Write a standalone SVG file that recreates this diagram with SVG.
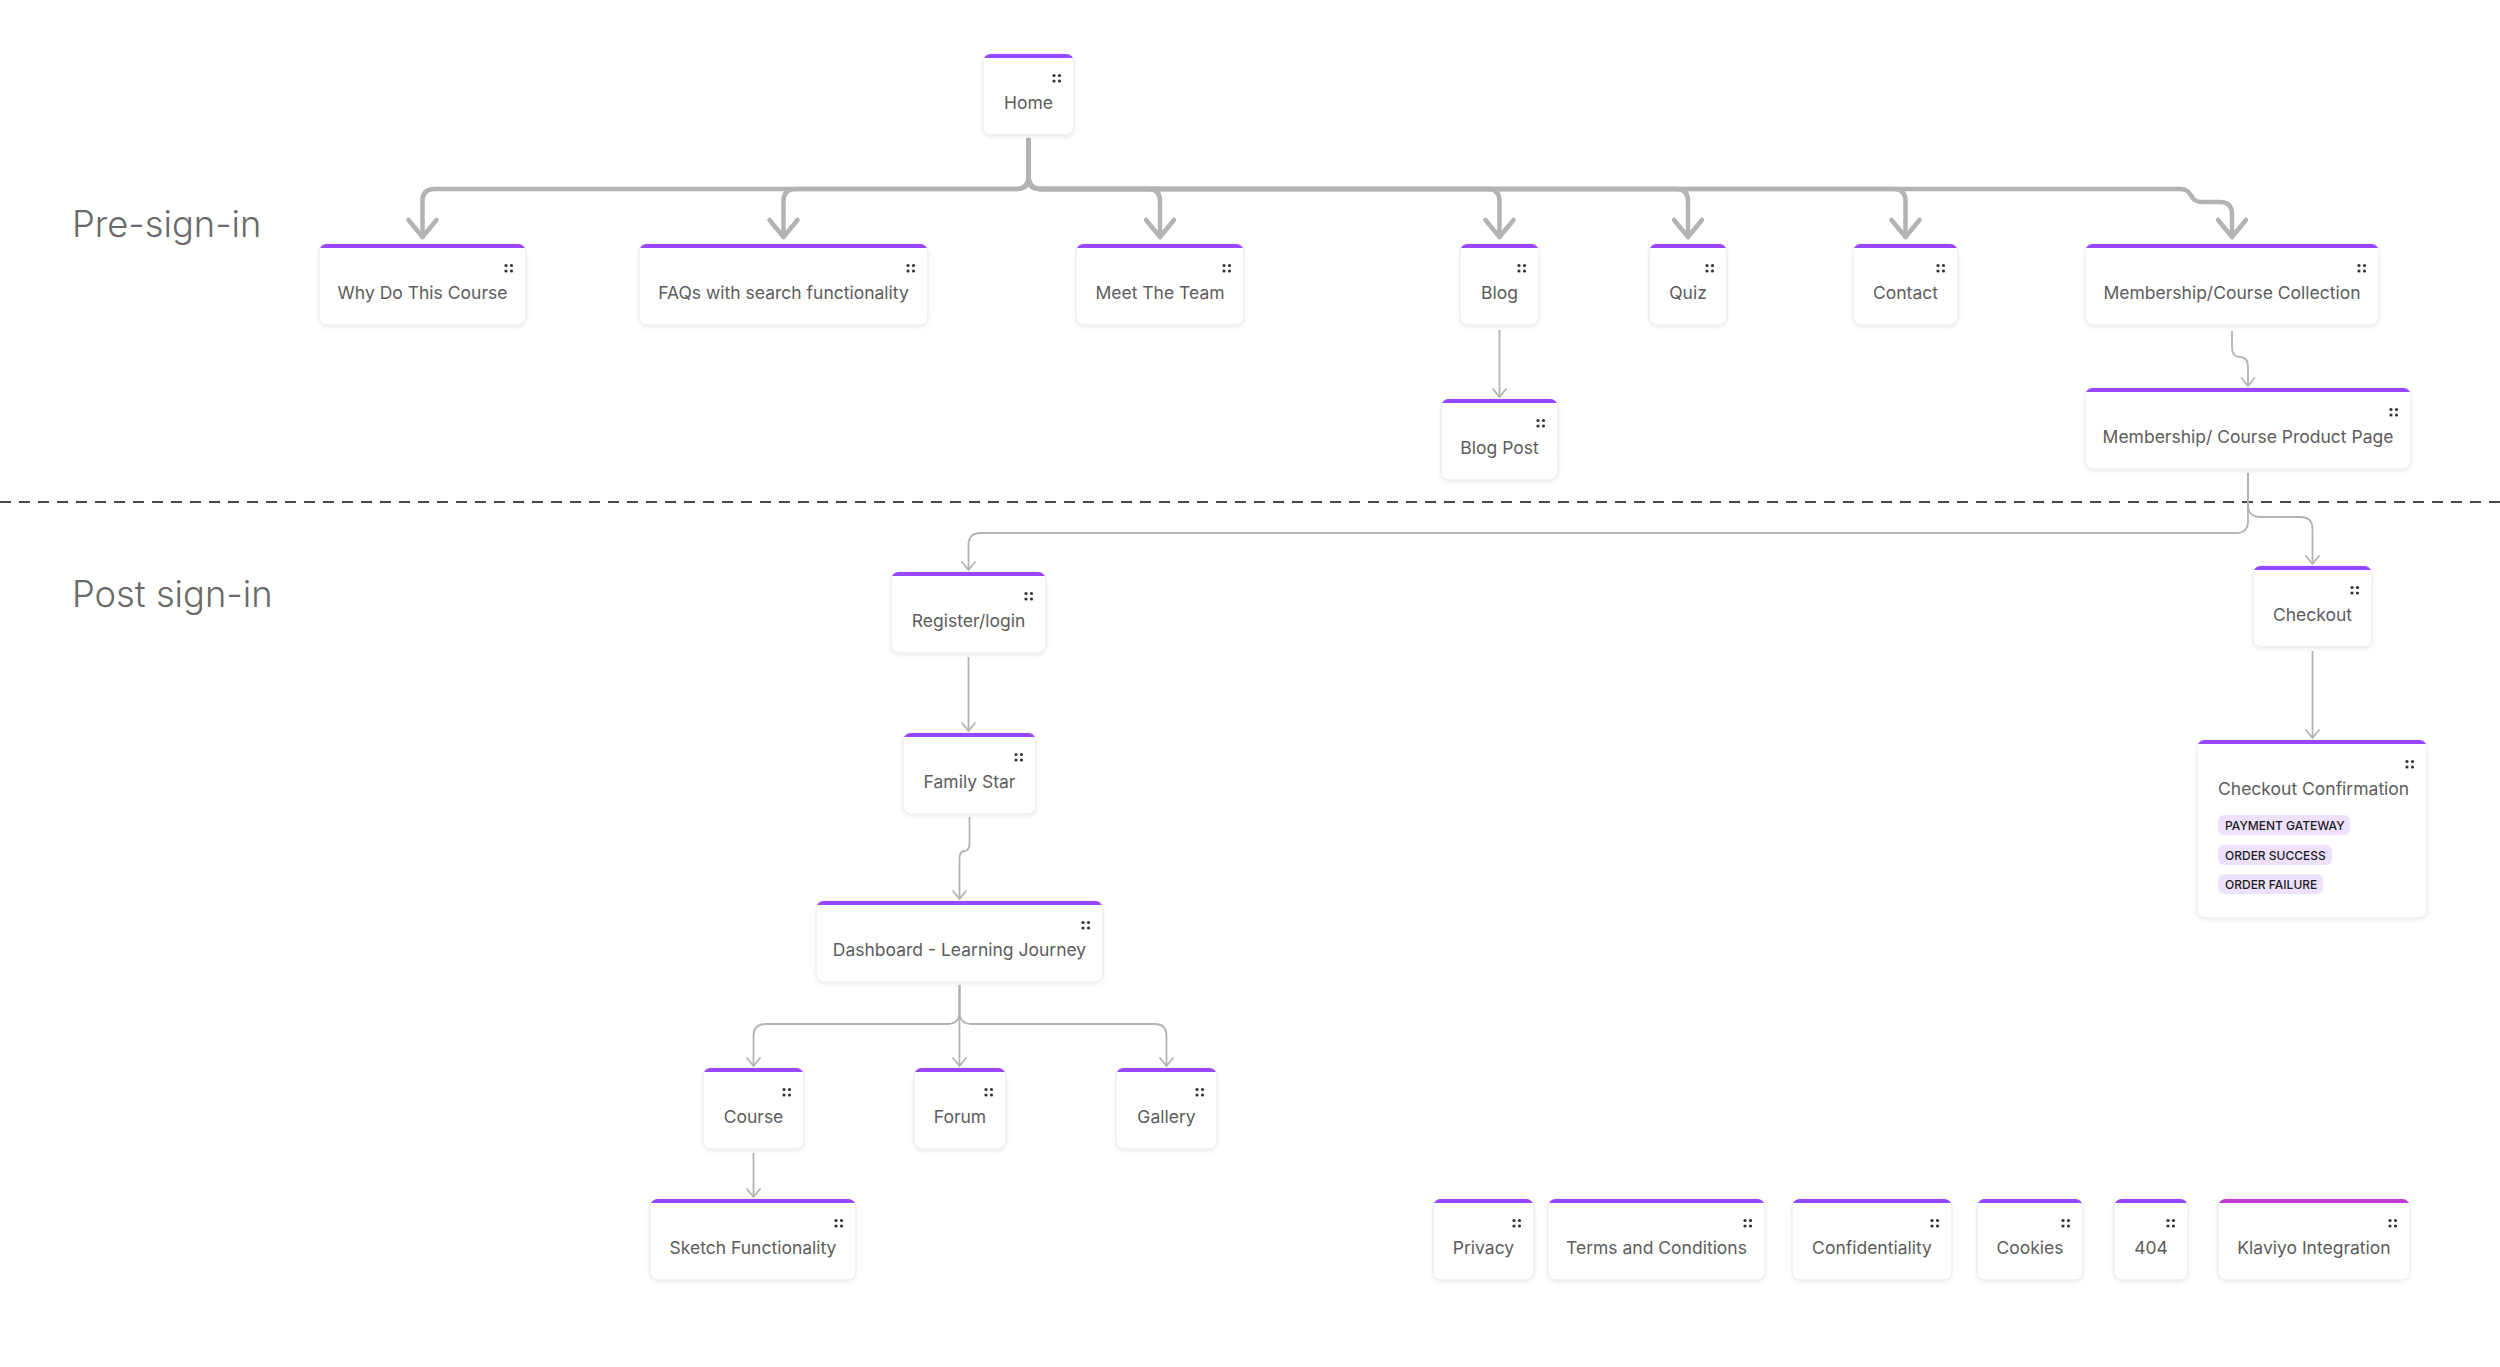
<svg xmlns="http://www.w3.org/2000/svg" xmlns:xlink="http://www.w3.org/1999/xlink" width="2500" height="1367" viewBox="0 0 2500 1367">
<style>
.card{fill:#ffffff;stroke:#e9e9e9;stroke-width:1;filter:url(#sh)}
.bar{fill:#9747ff}
.bar2{fill:#c23ad2}
.lbl{font-family:Inter,"Liberation Sans",sans-serif;font-size:17.5px;fill:#5c5c5c;text-anchor:middle}
.lbll{font-family:Inter,"Liberation Sans",sans-serif;font-size:17.5px;fill:#5c5c5c}
.sec{font-family:Inter,"Liberation Sans",sans-serif;font-size:36.3px;font-weight:300;fill:#6a6a6a}
.tag{fill:#ede1fd}
.tagt{font-family:Inter,"Liberation Sans",sans-serif;font-size:12px;font-weight:500;fill:#1c1c1c}
.thick{fill:none;stroke:#b3b3b3;stroke-width:4.5;stroke-linecap:round;stroke-linejoin:round;marker-end:url(#ahT)}
.thin{fill:none;stroke:#b3b3b3;stroke-width:1.8;marker-end:url(#ah)}
.dot{fill:#333333}
</style>
<defs>
<filter id="sh" x="-10%" y="-10%" width="120%" height="130%">
<feDropShadow dx="0" dy="2" stdDeviation="2" flood-color="#000000" flood-opacity="0.07"/>
</filter>
<marker id="ahT" markerUnits="userSpaceOnUse" orient="auto" refX="0" refY="0" markerWidth="40" markerHeight="40" viewBox="-20 -20 40 40" overflow="visible">
<path d="M-17,-14 L0,0 L-17,14" fill="none" stroke="#b3b3b3" stroke-width="4.5" stroke-linecap="round" stroke-linejoin="round"/>
</marker>
<marker id="ah" markerUnits="userSpaceOnUse" orient="auto" refX="0" refY="0" markerWidth="20" markerHeight="20" viewBox="-10 -10 20 20" overflow="visible">
<path d="M-8,-6.5 L0,0 L-8,6.5" fill="none" stroke="#b3b3b3" stroke-width="1.8" stroke-linecap="round" stroke-linejoin="round"/>
</marker>
<g id="dots">
<circle class="dot" cx="0" cy="0" r="1.6"/>
<circle class="dot" cx="5.5" cy="0" r="1.6"/>
<circle class="dot" cx="0" cy="5.5" r="1.6"/>
<circle class="dot" cx="5.5" cy="5.5" r="1.6"/>
</g>
</defs>
<rect x="0" y="0" width="2500" height="1367" fill="#ffffff"/>

<g id="sections">
<text class="sec" x="72" y="237">Pre-sign-in</text>
<text class="sec" x="72" y="607">Post sign-in</text>
<line x1="0" y1="502" x2="2500" y2="502" stroke="#4a4a4a" stroke-width="2" stroke-dasharray="11 8"/>
</g>

<g id="connectors">
<path class="thick" d="M1028.5 140 V177 Q1028.5 189 1016.5 189 H434.5 Q422.5 189 422.5 201 V237"/>
<path class="thick" d="M1028.5 140 V177 Q1028.5 189 1016.5 189 H795.5 Q783.5 189 783.5 201 V237"/>
<path class="thick" d="M1028.5 140 V177 Q1028.5 189 1040.5 189 H1148 Q1160 189 1160 201 V237"/>
<path class="thick" d="M1028.5 140 V177 Q1028.5 189 1040.5 189 H1487.5 Q1499.5 189 1499.5 201 V237"/>
<path class="thick" d="M1028.5 140 V177 Q1028.5 189 1040.5 189 H1676 Q1688 189 1688 201 V237"/>
<path class="thick" d="M1028.5 140 V177 Q1028.5 189 1040.5 189 H1893.5 Q1905.5 189 1905.5 201 V237"/>
<path class="thick" d="M1028.5 140 V177 Q1028.5 189 1040.5 189 H2180 C2194 189 2188 202 2202 202 H2220 Q2232 202 2232 214 V237"/>
<path class="thin" d="M1499.5 330 V397"/>
<path class="thin" d="M2232 331 V347 Q2232 357 2240 357 Q2248 357 2248 367 V386"/>
<path class="thin" d="M2248 473 V521 Q2248 533 2236 533 H980.5 Q968.5 533 968.5 545 V570"/>
<path class="thin" d="M2248 473 V505 Q2248 517 2260 517 H2300 Q2312.5 517 2312.5 529 V564"/>
<path class="thin" d="M2312.5 651 V738"/>
<path class="thin" d="M968.5 657 V731"/>
<path class="thin" d="M969.5 817 V843 Q969.5 851 964.5 851 Q959.5 851 959.5 859 V899"/>
<path class="thin" d="M959.5 985 V1012 Q959.5 1024 947.5 1024 H765.5 Q753.5 1024 753.5 1036 V1066"/>
<path class="thin" d="M959.5 985 V1066"/>
<path class="thin" d="M959.5 985 V1012 Q959.5 1024 971.5 1024 H1154.5 Q1166.5 1024 1166.5 1036 V1066"/>
<path class="thin" d="M753.5 1153 V1197"/>
</g>

<g id="node-home">
<rect class="card" x="983" y="54" width="91" height="81" rx="8"/>
<path class="bar" d="M984.07,58 A8,8 0 0 1 991,54 H1066 A8,8 0 0 1 1072.93,58 Z"/>
<use href="#dots" x="1054" y="75.5"/>
<text class="lbl" x="1028.5" y="109">Home</text>
</g>

<g id="node-why">
<rect class="card" x="319" y="244" width="207" height="81" rx="8"/>
<path class="bar" d="M320.07,248 A8,8 0 0 1 327,244 H518 A8,8 0 0 1 524.93,248 Z"/>
<use href="#dots" x="506" y="265.5"/>
<text class="lbl" x="422.5" y="299">Why Do This Course</text>
</g>

<g id="node-faqs">
<rect class="card" x="639" y="244" width="289" height="81" rx="8"/>
<path class="bar" d="M640.07,248 A8,8 0 0 1 647,244 H920 A8,8 0 0 1 926.93,248 Z"/>
<use href="#dots" x="908" y="265.5"/>
<text class="lbl" x="783.5" y="299">FAQs with search functionality</text>
</g>

<g id="node-team">
<rect class="card" x="1076" y="244" width="168" height="81" rx="8"/>
<path class="bar" d="M1077.07,248 A8,8 0 0 1 1084,244 H1236 A8,8 0 0 1 1242.93,248 Z"/>
<use href="#dots" x="1224" y="265.5"/>
<text class="lbl" x="1160" y="299">Meet The Team</text>
</g>

<g id="node-blog">
<rect class="card" x="1460" y="244" width="79" height="81" rx="8"/>
<path class="bar" d="M1461.07,248 A8,8 0 0 1 1468,244 H1531 A8,8 0 0 1 1537.93,248 Z"/>
<use href="#dots" x="1519" y="265.5"/>
<text class="lbl" x="1499.5" y="299">Blog</text>
</g>

<g id="node-quiz">
<rect class="card" x="1649" y="244" width="78" height="81" rx="8"/>
<path class="bar" d="M1650.07,248 A8,8 0 0 1 1657,244 H1719 A8,8 0 0 1 1725.93,248 Z"/>
<use href="#dots" x="1707" y="265.5"/>
<text class="lbl" x="1688" y="299">Quiz</text>
</g>

<g id="node-contact">
<rect class="card" x="1853" y="244" width="105" height="81" rx="8"/>
<path class="bar" d="M1854.07,248 A8,8 0 0 1 1861,244 H1950 A8,8 0 0 1 1956.93,248 Z"/>
<use href="#dots" x="1938" y="265.5"/>
<text class="lbl" x="1905.5" y="299">Contact</text>
</g>

<g id="node-collection">
<rect class="card" x="2085" y="244" width="294" height="81" rx="8"/>
<path class="bar" d="M2086.07,248 A8,8 0 0 1 2093,244 H2371 A8,8 0 0 1 2377.93,248 Z"/>
<use href="#dots" x="2359" y="265.5"/>
<text class="lbl" x="2232" y="299">Membership/Course Collection</text>
</g>

<g id="node-blogpost">
<rect class="card" x="1441" y="399" width="117" height="81" rx="8"/>
<path class="bar" d="M1442.07,403 A8,8 0 0 1 1449,399 H1550 A8,8 0 0 1 1556.93,403 Z"/>
<use href="#dots" x="1538" y="420.5"/>
<text class="lbl" x="1499.5" y="454">Blog Post</text>
</g>

<g id="node-product">
<rect class="card" x="2085" y="388" width="326" height="81" rx="8"/>
<path class="bar" d="M2086.07,392 A8,8 0 0 1 2093,388 H2403 A8,8 0 0 1 2409.93,392 Z"/>
<use href="#dots" x="2391" y="409.5"/>
<text class="lbl" x="2248" y="443">Membership/ Course Product Page</text>
</g>

<g id="node-register">
<rect class="card" x="891" y="572" width="155" height="81" rx="8"/>
<path class="bar" d="M892.07,576 A8,8 0 0 1 899,572 H1038 A8,8 0 0 1 1044.93,576 Z"/>
<use href="#dots" x="1026" y="593.5"/>
<text class="lbl" x="968.5" y="627">Register/login</text>
</g>

<g id="node-familystar">
<rect class="card" x="903" y="733" width="133" height="81" rx="8"/>
<path class="bar" d="M904.07,737 A8,8 0 0 1 911,733 H1028 A8,8 0 0 1 1034.93,737 Z"/>
<use href="#dots" x="1016" y="754.5"/>
<text class="lbl" x="969.5" y="788">Family Star</text>
</g>

<g id="node-dashboard">
<rect class="card" x="816" y="901" width="287" height="81" rx="8"/>
<path class="bar" d="M817.07,905 A8,8 0 0 1 824,901 H1095 A8,8 0 0 1 1101.93,905 Z"/>
<use href="#dots" x="1083" y="922.5"/>
<text class="lbl" x="959.5" y="956">Dashboard - Learning Journey</text>
</g>

<g id="node-course">
<rect class="card" x="703" y="1068" width="101" height="81" rx="8"/>
<path class="bar" d="M704.07,1072 A8,8 0 0 1 711,1068 H796 A8,8 0 0 1 802.93,1072 Z"/>
<use href="#dots" x="784" y="1089.5"/>
<text class="lbl" x="753.5" y="1123">Course</text>
</g>

<g id="node-forum">
<rect class="card" x="914" y="1068" width="92" height="81" rx="8"/>
<path class="bar" d="M915.07,1072 A8,8 0 0 1 922,1068 H998 A8,8 0 0 1 1004.93,1072 Z"/>
<use href="#dots" x="986" y="1089.5"/>
<text class="lbl" x="960" y="1123">Forum</text>
</g>

<g id="node-gallery">
<rect class="card" x="1116" y="1068" width="101" height="81" rx="8"/>
<path class="bar" d="M1117.07,1072 A8,8 0 0 1 1124,1068 H1209 A8,8 0 0 1 1215.93,1072 Z"/>
<use href="#dots" x="1197" y="1089.5"/>
<text class="lbl" x="1166.5" y="1123">Gallery</text>
</g>

<g id="node-sketch">
<rect class="card" x="650" y="1199" width="206" height="81" rx="8"/>
<path class="bar" d="M651.07,1203 A8,8 0 0 1 658,1199 H848 A8,8 0 0 1 854.93,1203 Z"/>
<use href="#dots" x="836" y="1220.5"/>
<text class="lbl" x="753" y="1254">Sketch Functionality</text>
</g>

<g id="node-checkout">
<rect class="card" x="2253" y="566" width="119" height="81" rx="8"/>
<path class="bar" d="M2254.07,570 A8,8 0 0 1 2261,566 H2364 A8,8 0 0 1 2370.93,570 Z"/>
<use href="#dots" x="2352" y="587.5"/>
<text class="lbl" x="2312.5" y="621">Checkout</text>
</g>

<g id="node-confirmation">
<rect class="card" x="2197" y="740" width="230" height="178" rx="8"/>
<path class="bar" d="M2198.07,744 A8,8 0 0 1 2205,740 H2419 A8,8 0 0 1 2425.93,744 Z"/>
<use href="#dots" x="2407" y="761.5"/>
<text class="lbll" x="2218" y="795">Checkout Confirmation</text>
<rect class="tag" x="2218" y="815" width="132" height="20" rx="6"/>
<text class="tagt" x="2225" y="829.5">PAYMENT GATEWAY</text>
<rect class="tag" x="2218" y="845" width="114" height="20" rx="6"/>
<text class="tagt" x="2225" y="859.5">ORDER SUCCESS</text>
<rect class="tag" x="2218" y="874" width="105" height="20" rx="6"/>
<text class="tagt" x="2225" y="888.5">ORDER FAILURE</text>
</g>

<g id="node-privacy">
<rect class="card" x="1433" y="1199" width="101" height="81" rx="8"/>
<path class="bar" d="M1434.07,1203 A8,8 0 0 1 1441,1199 H1526 A8,8 0 0 1 1532.93,1203 Z"/>
<use href="#dots" x="1514" y="1220.5"/>
<text class="lbl" x="1483.5" y="1254">Privacy</text>
</g>

<g id="node-terms">
<rect class="card" x="1548" y="1199" width="217" height="81" rx="8"/>
<path class="bar" d="M1549.07,1203 A8,8 0 0 1 1556,1199 H1757 A8,8 0 0 1 1763.93,1203 Z"/>
<use href="#dots" x="1745" y="1220.5"/>
<text class="lbl" x="1656.5" y="1254">Terms and Conditions</text>
</g>

<g id="node-confidentiality">
<rect class="card" x="1792" y="1199" width="160" height="81" rx="8"/>
<path class="bar" d="M1793.07,1203 A8,8 0 0 1 1800,1199 H1944 A8,8 0 0 1 1950.93,1203 Z"/>
<use href="#dots" x="1932" y="1220.5"/>
<text class="lbl" x="1872" y="1254">Confidentiality</text>
</g>

<g id="node-cookies">
<rect class="card" x="1977" y="1199" width="106" height="81" rx="8"/>
<path class="bar" d="M1978.07,1203 A8,8 0 0 1 1985,1199 H2075 A8,8 0 0 1 2081.93,1203 Z"/>
<use href="#dots" x="2063" y="1220.5"/>
<text class="lbl" x="2030" y="1254">Cookies</text>
</g>

<g id="node-404">
<rect class="card" x="2114" y="1199" width="74" height="81" rx="8"/>
<path class="bar" d="M2115.07,1203 A8,8 0 0 1 2122,1199 H2180 A8,8 0 0 1 2186.93,1203 Z"/>
<use href="#dots" x="2168" y="1220.5"/>
<text class="lbl" x="2151" y="1254">404</text>
</g>

<g id="node-klaviyo">
<rect class="card" x="2218" y="1199" width="192" height="81" rx="8"/>
<path class="bar2" d="M2219.07,1203 A8,8 0 0 1 2226,1199 H2402 A8,8 0 0 1 2408.93,1203 Z"/>
<use href="#dots" x="2390" y="1220.5"/>
<text class="lbl" x="2314" y="1254">Klaviyo Integration</text>
</g>
</svg>
